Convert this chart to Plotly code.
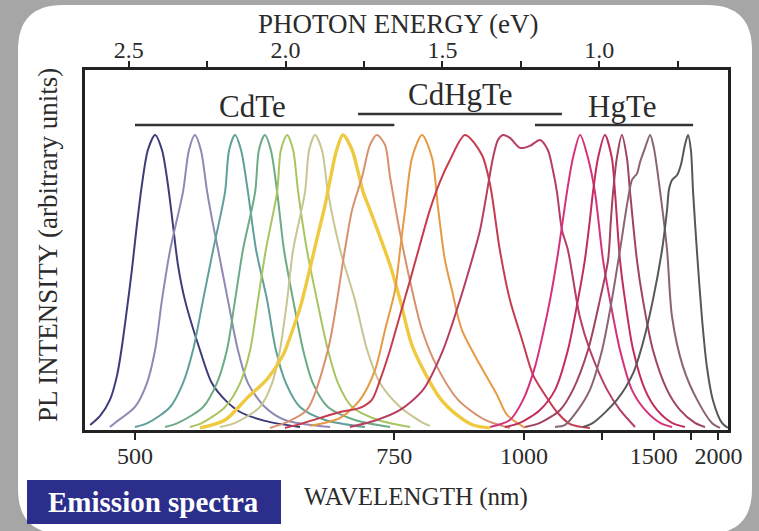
import plotly.graph_objects as go

# ---------------- data (photon energy in eV, normalised PL intensity) ----------------
cdte_1_ev = [2.623, 2.592, 2.560, 2.537, 2.521, 2.506, 2.490, 2.474, 2.458, 2.439, 2.416, 2.394, 2.375, 2.359, 2.343, 2.321, 2.273, 2.235, 2.193, 2.145, 2.066, 1.954]
cdte_1_pl = [0.017, 0.047, 0.102, 0.186, 0.288, 0.407, 0.542, 0.695, 0.831, 0.949, 1.0, 0.949, 0.831, 0.695, 0.559, 0.441, 0.271, 0.159, 0.102, 0.061, 0.031, 0.010]

cdte_2_ev = [2.560, 2.544, 2.480, 2.442, 2.416, 2.394, 2.368, 2.327, 2.308, 2.289, 2.270, 2.250, 2.231, 2.215, 2.184, 2.152, 2.120, 2.066, 2.002, 1.858]
cdte_2_pl = [0.010, 0.024, 0.078, 0.159, 0.271, 0.441, 0.610, 0.807, 0.949, 1.0, 0.949, 0.807, 0.695, 0.610, 0.441, 0.271, 0.159, 0.078, 0.034, 0.010]

cdte_3_ev = [2.480, 2.439, 2.368, 2.327, 2.295, 2.263, 2.231, 2.193, 2.180, 2.161, 2.142, 2.120, 2.094, 2.059, 2.031, 1.999, 1.954, 1.874, 1.747]
cdte_3_pl = [0.010, 0.024, 0.078, 0.159, 0.271, 0.441, 0.610, 0.807, 0.949, 1.0, 0.949, 0.807, 0.610, 0.441, 0.271, 0.159, 0.078, 0.034, 0.010]

cdte_4_ev = [2.384, 2.343, 2.263, 2.219, 2.187, 2.161, 2.136, 2.097, 2.085, 2.066, 2.047, 2.027, 2.005, 1.976, 1.944, 1.913, 1.865, 1.779, 1.667]
cdte_4_pl = [0.010, 0.024, 0.078, 0.159, 0.271, 0.441, 0.610, 0.807, 0.949, 1.0, 0.949, 0.807, 0.610, 0.441, 0.271, 0.159, 0.078, 0.034, 0.010]

cdte_5_ev = [2.305, 2.266, 2.193, 2.145, 2.113, 2.088, 2.063, 2.027, 2.015, 1.995, 1.976, 1.960, 1.932, 1.900, 1.865, 1.833, 1.788, 1.705, 1.603]
cdte_5_pl = [0.010, 0.024, 0.078, 0.159, 0.271, 0.441, 0.610, 0.807, 0.949, 1.0, 0.949, 0.807, 0.610, 0.441, 0.271, 0.159, 0.078, 0.034, 0.010]

cdte_6_ev = [2.209, 2.161, 2.082, 2.043, 2.018, 1.995, 1.976, 1.938, 1.925, 1.906, 1.884, 1.865, 1.826, 1.779, 1.740, 1.699, 1.635, 1.562, 1.540]
cdte_6_pl = [0.010, 0.024, 0.078, 0.159, 0.271, 0.441, 0.610, 0.807, 0.949, 1.0, 0.949, 0.807, 0.610, 0.441, 0.271, 0.159, 0.078, 0.024, 0.014]

cdte_7_ev = [2.273, 2.193, 2.123, 2.056, 2.008, 1.980, 1.951, 1.922, 1.897, 1.874, 1.855, 1.839, 1.817, 1.788, 1.753, 1.731, 1.667, 1.635, 1.594, 1.508, 1.454, 1.403, 1.348]
cdte_7_pl = [0.007, 0.034, 0.108, 0.176, 0.254, 0.332, 0.424, 0.549, 0.661, 0.763, 0.864, 0.942, 1.0, 0.949, 0.807, 0.746, 0.559, 0.441, 0.278, 0.108, 0.051, 0.017, 0.007]

cdte_8_ev = [2.050, 2.002, 1.932, 1.865, 1.811, 1.788, 1.756, 1.731, 1.709, 1.683, 1.667, 1.629, 1.597, 1.565, 1.517, 1.450, 1.364, 1.285]
cdte_8_pl = [0.007, 0.024, 0.068, 0.271, 0.610, 0.746, 0.858, 0.966, 1.0, 0.966, 0.858, 0.634, 0.475, 0.339, 0.214, 0.102, 0.034, 0.007]

cdhgte_1_ev = [1.922, 1.826, 1.763, 1.715, 1.683, 1.651, 1.635, 1.619, 1.597, 1.565, 1.533, 1.514, 1.492, 1.470, 1.438, 1.380, 1.326, 1.294, 1.237]
cdhgte_1_pl = [0.014, 0.041, 0.102, 0.203, 0.339, 0.475, 0.610, 0.746, 0.922, 1.0, 0.922, 0.753, 0.576, 0.475, 0.339, 0.220, 0.119, 0.051, 0.007]

cdhgte_2_ev = [2.002, 1.954, 1.890, 1.826, 1.763, 1.725, 1.699, 1.667, 1.635, 1.603, 1.572, 1.540, 1.508, 1.476, 1.428, 1.374, 1.348, 1.317, 1.285, 1.246, 1.211, 1.173, 1.135, 1.093, 1.030]
cdhgte_2_pl = [0.007, 0.020, 0.041, 0.061, 0.075, 0.102, 0.169, 0.271, 0.390, 0.508, 0.627, 0.746, 0.841, 0.915, 1.0, 0.932, 0.831, 0.610, 0.441, 0.305, 0.186, 0.119, 0.061, 0.020, 0.007]

cdhgte_3_ev = [1.795, 1.709, 1.635, 1.562, 1.498, 1.444, 1.406, 1.380, 1.358, 1.339, 1.323, 1.307, 1.285, 1.253, 1.221, 1.189, 1.164, 1.148, 1.135, 1.119, 1.100, 1.062, 1.030, 0.975, 0.934, 0.886]
cdhgte_3_pl = [0.010, 0.034, 0.068, 0.136, 0.271, 0.441, 0.576, 0.678, 0.807, 0.922, 0.983, 1.0, 0.990, 0.956, 0.963, 0.983, 0.949, 0.881, 0.807, 0.678, 0.610, 0.383, 0.271, 0.136, 0.068, 0.010]

hgte_1_ev = [1.348, 1.285, 1.243, 1.205, 1.179, 1.157, 1.135, 1.116, 1.103, 1.084, 1.061, 1.036, 1.014, 0.988, 0.966, 0.934, 0.896, 0.854, 0.806, 0.768]
hgte_1_pl = [0.010, 0.034, 0.102, 0.214, 0.329, 0.441, 0.576, 0.712, 0.807, 0.922, 1.0, 0.922, 0.807, 0.576, 0.441, 0.271, 0.136, 0.068, 0.024, 0.010]

hgte_2_ev = [1.301, 1.253, 1.189, 1.141, 1.100, 1.068, 1.046, 1.030, 1.020, 1.004, 0.982, 0.960, 0.950, 0.934, 0.918, 0.892, 0.854, 0.816, 0.768, 0.727]
hgte_2_pl = [0.010, 0.024, 0.068, 0.136, 0.271, 0.441, 0.576, 0.712, 0.807, 0.922, 1.0, 0.922, 0.807, 0.576, 0.441, 0.271, 0.136, 0.068, 0.024, 0.010]

hgte_3_ev = [1.237, 1.189, 1.125, 1.084, 1.036, 0.998, 0.972, 0.963, 0.956, 0.944, 0.928, 0.912, 0.902, 0.880, 0.861, 0.829, 0.784, 0.743, 0.695, 0.663]
hgte_3_pl = [0.010, 0.024, 0.068, 0.136, 0.271, 0.441, 0.576, 0.712, 0.807, 0.922, 1.0, 0.922, 0.807, 0.576, 0.441, 0.271, 0.136, 0.068, 0.024, 0.010]

hgte_4_ev = [1.141, 1.109, 1.068, 1.030, 0.991, 0.960, 0.934, 0.909, 0.896, 0.886, 0.880, 0.870, 0.854, 0.838, 0.826, 0.806, 0.784, 0.768, 0.733, 0.688, 0.641, 0.615]
hgte_4_pl = [0.010, 0.017, 0.068, 0.136, 0.271, 0.441, 0.610, 0.780, 0.847, 0.861, 0.868, 0.908, 0.956, 1.0, 0.956, 0.807, 0.610, 0.383, 0.214, 0.102, 0.024, 0.007]

hgte_5_ev = [1.052, 1.020, 0.944, 0.892, 0.861, 0.829, 0.800, 0.784, 0.778, 0.768, 0.752, 0.740, 0.727, 0.717, 0.708, 0.701, 0.689, 0.673, 0.657, 0.638, 0.609, 0.590]
hgte_5_pl = [0.010, 0.024, 0.102, 0.193, 0.295, 0.441, 0.610, 0.746, 0.814, 0.847, 0.864, 0.898, 0.966, 1.0, 0.949, 0.807, 0.610, 0.383, 0.214, 0.102, 0.024, 0.007]

series_colors = ["#3c3c7a", "#8f89b4", "#60a09a", "#6cab86", "#a9c562", "#c9c592", "#efca40", "#d8906e",
                 "#e69a44", "#c63c4e", "#b63e60", "#d4337c", "#c22e5a", "#a0445e", "#8a6474", "#575757"]
series_widths = [2, 2, 2, 2, 2, 2, 3.4, 2, 2, 2, 2, 2, 2, 2, 2, 2]

# wavelength ticks (nm) on bottom axis, photon-energy ticks (eV) on top axis
wl_ticks = [500, 750, 1000, 1250, 1500, 1750, 2000]
wl_labels = ["500", "750", "1000", "", "1500", "", "2000"]
ev_ticks = [2.5, 2.25, 2.0, 1.75, 1.5, 1.25, 1.0, 0.75]
ev_labels = ["2.5", "", "2.0", "", "1.5", "", "1.0", ""]

# material groups: wavelength span (nm) and bar level
groups = ["CdTe", "CdHgTe", "HgTe"]
group_start_nm = [500, 701, 1029]
group_end_nm = [750, 1108, 1769]
group_level = [1.034, 1.071, 1.034]
group_label_ev = [2.104, 1.441, 0.928]
group_label_level = [1.095, 1.136, 1.095]

HC = 1240.0  # eV*nm
ev_range = [2.6394, 0.5897]

series_ev = [cdte_1_ev, cdte_2_ev, cdte_3_ev, cdte_4_ev, cdte_5_ev, cdte_6_ev, cdte_7_ev, cdte_8_ev,
             cdhgte_1_ev, cdhgte_2_ev, cdhgte_3_ev, hgte_1_ev, hgte_2_ev, hgte_3_ev, hgte_4_ev, hgte_5_ev]
series_pl = [cdte_1_pl, cdte_2_pl, cdte_3_pl, cdte_4_pl, cdte_5_pl, cdte_6_pl, cdte_7_pl, cdte_8_pl,
             cdhgte_1_pl, cdhgte_2_pl, cdhgte_3_pl, hgte_1_pl, hgte_2_pl, hgte_3_pl, hgte_4_pl, hgte_5_pl]

FONT = "Liberation Serif, Times New Roman, serif"
INK = "#2b2b2b"

fig = go.Figure()
for ev, pl, col, w in zip(series_ev, series_pl, series_colors, series_widths):
    fig.add_trace(go.Scatter(x=ev, y=pl, mode="lines",
                             line=dict(color=col, width=w, shape="spline", smoothing=0.8),
                             showlegend=False, hoverinfo="skip"))
# empty trace to register the top (photon energy) axis
fig.add_trace(go.Scatter(x=[], y=[], xaxis="x2", showlegend=False, hoverinfo="skip"))

W, H = 759, 531
ML, MR, MT, MB = 85, 31, 70, 101
pw, ph = W - ML - MR, H - MT - MB


def px(xp):
    return (xp - ML) / pw


def py(yp):
    return (H - MB - yp) / ph


shapes = []
# white rounded panel
L, R, T, B = px(18), px(752), py(5), py(534)
rx, ry = 45 / pw, 45 / ph
panel = (f"M {L+rx},{T} L {R-rx},{T} Q {R},{T} {R},{T-ry} L {R},{B+ry} Q {R},{B} {R-rx},{B} "
         f"L {L+rx},{B} Q {L},{B} {L},{B+ry} L {L},{T-ry} Q {L},{T} {L+rx},{T} Z")
shapes.append(dict(type="path", xref="paper", yref="paper", path=panel,
                   fillcolor="#ffffff", line=dict(width=0), layer="below"))
# emission spectra box
shapes.append(dict(type="rect", xref="paper", yref="paper", x0=px(27), x1=px(281), y0=py(480), y1=py(524),
                   fillcolor="#2c2e8c", line=dict(width=0), layer="below"))
# group bars
for s, e, lv in zip(group_start_nm, group_end_nm, group_level):
    shapes.append(dict(type="line", xref="x", yref="y", x0=HC / s, x1=HC / e, y0=lv, y1=lv,
                       line=dict(color="#333333", width=2.5)))

annotations = []
for g, gx, gy in zip(groups, group_label_ev, group_label_level):
    annotations.append(dict(x=gx, y=gy, xref="x", yref="y", text=g, showarrow=False,
                            xanchor="center", yanchor="middle",
                            font=dict(family=FONT, size=31, color=INK)))


def note(xp, yp, text, size, color=INK, angle=0):
    annotations.append(dict(x=px(xp), y=py(yp), xref="paper", yref="paper", text=text, showarrow=False,
                            xanchor="center", yanchor="middle", textangle=angle,
                            font=dict(family=FONT, size=size, color=color)))


note(398, 24, "PHOTON ENERGY (eV)", 27)
note(416, 497, "WAVELENGTH (nm)", 25)
note(48, 245, "PL INTENSITY (arbitrary units)", 27, angle=-90)
note(153, 502, "<b>Emission spectra</b>", 29, color="#ffffff")

fig.update_layout(
    width=W, height=H,
    margin=dict(l=ML, r=MR, t=MT, b=MB),
    paper_bgcolor="#a6a6a6", plot_bgcolor="rgba(0,0,0,0)",
    shapes=shapes, annotations=annotations,
    xaxis=dict(range=ev_range, tickmode="array", tickvals=[HC / v for v in wl_ticks], ticktext=wl_labels,
               ticks="outside", ticklen=7, tickwidth=2, tickcolor="#222", showline=True, linecolor="#222",
               linewidth=2.5, mirror=True, showgrid=False, zeroline=False, ticklabelstandoff=-5,
               tickfont=dict(family=FONT, size=24, color=INK)),
    xaxis2=dict(overlaying="x", side="top", range=ev_range, tickmode="array", tickvals=ev_ticks,
                ticktext=ev_labels, ticks="outside", ticklen=8, tickwidth=2, tickcolor="#222",
                showline=False, showgrid=False, zeroline=False, ticklabelstandoff=-7,
                tickfont=dict(family=FONT, size=24, color=INK)),
    yaxis=dict(range=[0, 1.22], showticklabels=False, ticks="", showline=True, linecolor="#222",
               linewidth=2.5, mirror=True, showgrid=False, zeroline=False),
)

fig.write_html("out.html", config={"displayModeBar": False},
               post_script="document.body.style.margin='0';document.body.style.overflow='hidden';")
